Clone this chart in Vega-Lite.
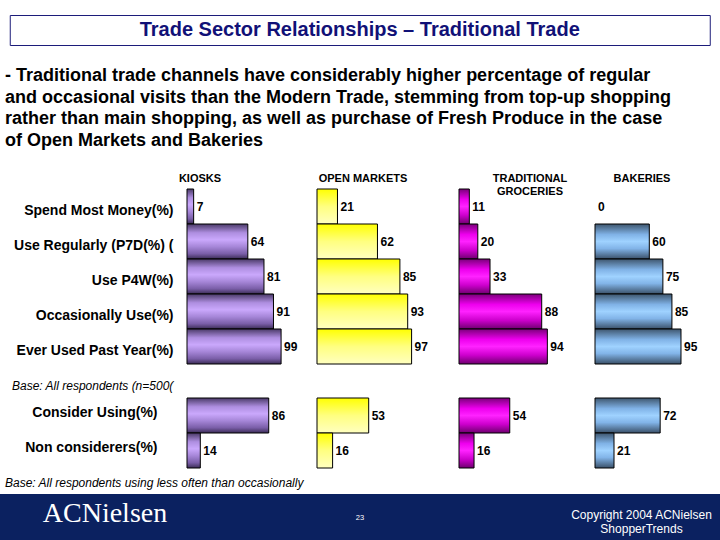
{
  "$schema": "https://vega.github.io/schema/vega-lite/v6.json",
  "background": "white",
  "padding": {"left": 0, "top": 14, "right": 0, "bottom": 0},
  "config": {"view": {"stroke": null}, "font": "Liberation Sans"},
  "datasets": {
    "top": [
      {"store": "Kiosks", "measure": "Spend Most Money(%)", "value": 7},
      {"store": "Kiosks", "measure": "Use Regularly (P7D(%) (", "value": 64},
      {"store": "Kiosks", "measure": "Use P4W(%)", "value": 81},
      {"store": "Kiosks", "measure": "Occasionally Use(%)", "value": 91},
      {"store": "Kiosks", "measure": "Ever Used Past Year(%)", "value": 99},
      {"store": "Open Markets", "measure": "Spend Most Money(%)", "value": 21},
      {"store": "Open Markets", "measure": "Use Regularly (P7D(%) (", "value": 62},
      {"store": "Open Markets", "measure": "Use P4W(%)", "value": 85},
      {"store": "Open Markets", "measure": "Occasionally Use(%)", "value": 93},
      {"store": "Open Markets", "measure": "Ever Used Past Year(%)", "value": 97},
      {"store": "Traditional Groceries", "measure": "Spend Most Money(%)", "value": 11},
      {"store": "Traditional Groceries", "measure": "Use Regularly (P7D(%) (", "value": 20},
      {"store": "Traditional Groceries", "measure": "Use P4W(%)", "value": 33},
      {"store": "Traditional Groceries", "measure": "Occasionally Use(%)", "value": 88},
      {"store": "Traditional Groceries", "measure": "Ever Used Past Year(%)", "value": 94},
      {"store": "Bakeries", "measure": "Spend Most Money(%)", "value": 0},
      {"store": "Bakeries", "measure": "Use Regularly (P7D(%) (", "value": 60},
      {"store": "Bakeries", "measure": "Use P4W(%)", "value": 75},
      {"store": "Bakeries", "measure": "Occasionally Use(%)", "value": 85},
      {"store": "Bakeries", "measure": "Ever Used Past Year(%)", "value": 95}
    ],
    "bottom": [
      {"store": "Kiosks", "measure": "Consider Using(%)", "value": 86},
      {"store": "Kiosks", "measure": "Non considerers(%)", "value": 14},
      {"store": "Open Markets", "measure": "Consider Using(%)", "value": 53},
      {"store": "Open Markets", "measure": "Non considerers(%)", "value": 16},
      {"store": "Traditional Groceries", "measure": "Consider Using(%)", "value": 54},
      {"store": "Traditional Groceries", "measure": "Non considerers(%)", "value": 16},
      {"store": "Bakeries", "measure": "Consider Using(%)", "value": 72},
      {"store": "Bakeries", "measure": "Non considerers(%)", "value": 21}
    ]
  },
  "spacing": 0,
  "center": true,
  "vconcat": [
    {
      "width": 700, "height": 30,
      "view": {"stroke": "#1c1c7a", "strokeWidth": 1},
      "data": {"values": [{"t": "Trade Sector Relationships – Traditional Trade"}]},
      "mark": {"type": "text", "fontSize": 20, "fontWeight": "bold", "color": "#111177", "font": "Liberation Sans"},
      "encoding": {"text": {"field": "t"}}
    },
    {
      "width": 720, "height": 126,
      "data": {"values": [{"t": "- Traditional trade channels have considerably higher percentage of regular\nand occasional visits than the Modern Trade, stemming from top-up shopping\nrather than main shopping, as well as purchase of Fresh Produce in the case\nof Open Markets and Bakeries"}]},
      "mark": {"type": "text", "align": "left", "baseline": "middle", "dx": -355, "dy": -33, "fontSize": 18, "fontWeight": "bold", "lineBreak": "\n", "lineHeight": 21.7, "color": "black", "font": "Liberation Sans"},
      "encoding": {"text": {"field": "t"}}
    },
    {
      "spacing": 0,
      "bounds": "flush",
      "hconcat": [
        {
          "width": 187, "height": 175,
          "data": {"name": "top"},
          "transform": [{"filter": "datum.store === 'Kiosks'"}],
          "title": {"text": "Base: All respondents (n=500(", "orient": "bottom", "anchor": "start", "frame": "group", "dx": 12, "offset": 17, "fontSize": 12, "fontStyle": "italic", "fontWeight": "normal", "color": "black", "font": "Liberation Sans"},
          "mark": {"type": "bar", "opacity": 0},
          "encoding": {
            "y": {"field": "measure", "type": "nominal", "sort": ["Spend Most Money(%)", "Use Regularly (P7D(%) (", "Use P4W(%)", "Occasionally Use(%)", "Ever Used Past Year(%)"],
              "scale": {"paddingInner": 0, "paddingOuter": 0},
              "axis": {"orient": "right", "title": null, "domain": false, "ticks": false, "tickSize": 0, "labelAlign": "right", "labelPadding": -14, "labelFontSize": 14, "labelFont": "Liberation Sans", "labelFontWeight": "bold", "labelColor": "black", "labelOffset": 4, "labelLimit": 400}}
          }
        },
        {
          "width": 130, "height": 175,
          "title": {"text": "KIOSKS", "anchor": "start", "align": "center", "frame": "group", "dx": 13, "offset": 5, "fontSize": 11, "fontWeight": "bold", "color": "black", "font": "Liberation Sans"},
          "data": {"name": "top"},
          "transform": [{"filter": "datum.store === 'Kiosks'"}],
          "encoding": {
            "y": {"field": "measure", "type": "nominal", "sort": ["Spend Most Money(%)", "Use Regularly (P7D(%) (", "Use P4W(%)", "Occasionally Use(%)", "Ever Used Past Year(%)"], "scale": {"paddingInner": 0, "paddingOuter": 0}, "axis": null},
            "x": {"field": "value", "type": "quantitative", "scale": {"domain": [0, 136.8], "nice": false}, "axis": null}
          },
          "layer": [
            {"transform": [{"filter": "datum.value > 0"}], "mark": {"type": "bar", "stroke": "black", "strokeWidth": 1, "fill": {"gradient": "linear", "x1": 0, "y1": 0, "x2": 0, "y2": 1, "stops": [{"offset": 0, "color": "#4a3a68"}, {"offset": 0.25, "color": "#ae8ee0"}, {"offset": 0.45, "color": "#caa8fc"}, {"offset": 0.65, "color": "#a686d8"}, {"offset": 0.85, "color": "#7a5ea8"}, {"offset": 1, "color": "#3a2c55"}]}}},
            {"mark": {"type": "text", "align": "left", "dx": 3, "fontSize": 12, "fontWeight": "bold", "font": "Liberation Sans Narrow, Liberation Sans", "color": "black"}, "encoding": {"text": {"field": "value", "type": "quantitative"}}}
          ]
        },
        {
          "width": 142, "height": 175,
          "title": {"text": "OPEN MARKETS", "anchor": "start", "align": "center", "frame": "group", "dx": 46, "offset": 5, "fontSize": 11, "fontWeight": "bold", "color": "black", "font": "Liberation Sans"},
          "data": {"name": "top"},
          "transform": [{"filter": "datum.store === 'Open Markets'"}],
          "encoding": {
            "y": {"field": "measure", "type": "nominal", "sort": ["Spend Most Money(%)", "Use Regularly (P7D(%) (", "Use P4W(%)", "Occasionally Use(%)", "Ever Used Past Year(%)"], "scale": {"paddingInner": 0, "paddingOuter": 0}, "axis": null},
            "x": {"field": "value", "type": "quantitative", "scale": {"domain": [0, 145.6], "nice": false}, "axis": null}
          },
          "layer": [
            {"transform": [{"filter": "datum.value > 0"}], "mark": {"type": "bar", "stroke": "black", "strokeWidth": 1, "fill": {"gradient": "linear", "x1": 0, "y1": 0, "x2": 0, "y2": 1, "stops": [{"offset": 0, "color": "#ffff00"}, {"offset": 0.5, "color": "#ffff80"}, {"offset": 1, "color": "#ffffc0"}]}}},
            {"mark": {"type": "text", "align": "left", "dx": 3, "fontSize": 12, "fontWeight": "bold", "font": "Liberation Sans Narrow, Liberation Sans", "color": "black"}, "encoding": {"text": {"field": "value", "type": "quantitative"}}}
          ]
        },
        {
          "width": 136, "height": 175,
          "title": {"text": ["TRADITIONAL", "GROCERIES"], "anchor": "start", "align": "center", "frame": "group", "dx": 71, "dy": 13, "lineHeight": 13, "offset": 5, "fontSize": 11, "fontWeight": "bold", "color": "black", "font": "Liberation Sans"},
          "data": {"name": "top"},
          "transform": [{"filter": "datum.store === 'Traditional Groceries'"}],
          "encoding": {
            "y": {"field": "measure", "type": "nominal", "sort": ["Spend Most Money(%)", "Use Regularly (P7D(%) (", "Use P4W(%)", "Occasionally Use(%)", "Ever Used Past Year(%)"], "scale": {"paddingInner": 0, "paddingOuter": 0}, "axis": null},
            "x": {"field": "value", "type": "quantitative", "scale": {"domain": [0, 144.7], "nice": false}, "axis": null}
          },
          "layer": [
            {"transform": [{"filter": "datum.value > 0"}], "mark": {"type": "bar", "stroke": "black", "strokeWidth": 1, "fill": {"gradient": "linear", "x1": 0, "y1": 0, "x2": 0, "y2": 1, "stops": [{"offset": 0, "color": "#7a007a"}, {"offset": 0.3, "color": "#ee00ee"}, {"offset": 0.5, "color": "#ff22ff"}, {"offset": 0.75, "color": "#cc00cc"}, {"offset": 1, "color": "#6e006e"}]}}},
            {"mark": {"type": "text", "align": "left", "dx": 3, "fontSize": 12, "fontWeight": "bold", "font": "Liberation Sans Narrow, Liberation Sans", "color": "black"}, "encoding": {"text": {"field": "value", "type": "quantitative"}}}
          ]
        },
        {
          "width": 125, "height": 175,
          "title": {"text": "BAKERIES", "anchor": "start", "align": "center", "frame": "group", "dx": 47, "offset": 5, "fontSize": 11, "fontWeight": "bold", "color": "black", "font": "Liberation Sans"},
          "data": {"name": "top"},
          "transform": [{"filter": "datum.store === 'Bakeries'"}],
          "encoding": {
            "y": {"field": "measure", "type": "nominal", "sort": ["Spend Most Money(%)", "Use Regularly (P7D(%) (", "Use P4W(%)", "Occasionally Use(%)", "Ever Used Past Year(%)"], "scale": {"paddingInner": 0, "paddingOuter": 0}, "axis": null},
            "x": {"field": "value", "type": "quantitative", "scale": {"domain": [0, 138.1], "nice": false}, "axis": null}
          },
          "layer": [
            {"transform": [{"filter": "datum.value > 0"}], "mark": {"type": "bar", "stroke": "black", "strokeWidth": 1, "fill": {"gradient": "linear", "x1": 0, "y1": 0, "x2": 0, "y2": 1, "stops": [{"offset": 0, "color": "#3e566e"}, {"offset": 0.3, "color": "#80b2e6"}, {"offset": 0.5, "color": "#9fd2ff"}, {"offset": 0.7, "color": "#82b4e8"}, {"offset": 1, "color": "#3a5068"}]}}},
            {"mark": {"type": "text", "align": "left", "dx": 3, "fontSize": 12, "fontWeight": "bold", "font": "Liberation Sans Narrow, Liberation Sans", "color": "black"}, "encoding": {"text": {"field": "value", "type": "quantitative"}}}
          ]
        }
      ]
    },
    {
      "spacing": 0,
      "bounds": "flush",
      "hconcat": [
        {
          "width": 187, "height": 84,
          "data": {"name": "bottom"},
          "transform": [{"filter": "datum.store === 'Kiosks'"}],
          "mark": {"type": "bar", "opacity": 0},
          "encoding": {
            "y": {"field": "measure", "type": "nominal", "sort": ["Consider Using(%)", "Non considerers(%)"],
              "scale": {"paddingInner": 0, "paddingOuter": 0.2, "align": 0.4286},
              "axis": {"orient": "right", "title": null, "domain": false, "ticks": false, "tickSize": 0, "labelAlign": "right", "labelPadding": -30, "labelFontSize": 14, "labelFont": "Liberation Sans", "labelFontWeight": "bold", "labelColor": "black", "labelOffset": -3, "labelLimit": 400}}
          }
        },
        {
          "width": 130, "height": 84,
          "data": {"name": "bottom"},
          "transform": [{"filter": "datum.store === 'Kiosks'"}],
          "encoding": {
            "y": {"field": "measure", "type": "nominal", "sort": ["Consider Using(%)", "Non considerers(%)"], "scale": {"paddingInner": 0, "paddingOuter": 0.2, "align": 0.4286}, "axis": null},
            "x": {"field": "value", "type": "quantitative", "scale": {"domain": [0, 136.8], "nice": false}, "axis": null}
          },
          "layer": [
            {"mark": {"type": "bar", "stroke": "black", "strokeWidth": 1, "fill": {"gradient": "linear", "x1": 0, "y1": 0, "x2": 0, "y2": 1, "stops": [{"offset": 0, "color": "#4a3a68"}, {"offset": 0.25, "color": "#ae8ee0"}, {"offset": 0.45, "color": "#caa8fc"}, {"offset": 0.65, "color": "#a686d8"}, {"offset": 0.85, "color": "#7a5ea8"}, {"offset": 1, "color": "#3a2c55"}]}}},
            {"mark": {"type": "text", "align": "left", "dx": 3, "fontSize": 12, "fontWeight": "bold", "font": "Liberation Sans Narrow, Liberation Sans", "color": "black"}, "encoding": {"text": {"field": "value", "type": "quantitative"}}}
          ]
        },
        {
          "width": 142, "height": 84,
          "data": {"name": "bottom"},
          "transform": [{"filter": "datum.store === 'Open Markets'"}],
          "encoding": {
            "y": {"field": "measure", "type": "nominal", "sort": ["Consider Using(%)", "Non considerers(%)"], "scale": {"paddingInner": 0, "paddingOuter": 0.2, "align": 0.4286}, "axis": null},
            "x": {"field": "value", "type": "quantitative", "scale": {"domain": [0, 145.6], "nice": false}, "axis": null}
          },
          "layer": [
            {"mark": {"type": "bar", "stroke": "black", "strokeWidth": 1, "fill": {"gradient": "linear", "x1": 0, "y1": 0, "x2": 0, "y2": 1, "stops": [{"offset": 0, "color": "#ffff00"}, {"offset": 0.5, "color": "#ffff80"}, {"offset": 1, "color": "#ffffc0"}]}}},
            {"mark": {"type": "text", "align": "left", "dx": 3, "fontSize": 12, "fontWeight": "bold", "font": "Liberation Sans Narrow, Liberation Sans", "color": "black"}, "encoding": {"text": {"field": "value", "type": "quantitative"}}}
          ]
        },
        {
          "width": 136, "height": 84,
          "data": {"name": "bottom"},
          "transform": [{"filter": "datum.store === 'Traditional Groceries'"}],
          "encoding": {
            "y": {"field": "measure", "type": "nominal", "sort": ["Consider Using(%)", "Non considerers(%)"], "scale": {"paddingInner": 0, "paddingOuter": 0.2, "align": 0.4286}, "axis": null},
            "x": {"field": "value", "type": "quantitative", "scale": {"domain": [0, 144.7], "nice": false}, "axis": null}
          },
          "layer": [
            {"mark": {"type": "bar", "stroke": "black", "strokeWidth": 1, "fill": {"gradient": "linear", "x1": 0, "y1": 0, "x2": 0, "y2": 1, "stops": [{"offset": 0, "color": "#7a007a"}, {"offset": 0.3, "color": "#ee00ee"}, {"offset": 0.5, "color": "#ff22ff"}, {"offset": 0.75, "color": "#cc00cc"}, {"offset": 1, "color": "#6e006e"}]}}},
            {"mark": {"type": "text", "align": "left", "dx": 3, "fontSize": 12, "fontWeight": "bold", "font": "Liberation Sans Narrow, Liberation Sans", "color": "black"}, "encoding": {"text": {"field": "value", "type": "quantitative"}}}
          ]
        },
        {
          "width": 125, "height": 84,
          "data": {"name": "bottom"},
          "transform": [{"filter": "datum.store === 'Bakeries'"}],
          "encoding": {
            "y": {"field": "measure", "type": "nominal", "sort": ["Consider Using(%)", "Non considerers(%)"], "scale": {"paddingInner": 0, "paddingOuter": 0.2, "align": 0.4286}, "axis": null},
            "x": {"field": "value", "type": "quantitative", "scale": {"domain": [0, 138.1], "nice": false}, "axis": null}
          },
          "layer": [
            {"mark": {"type": "bar", "stroke": "black", "strokeWidth": 1, "fill": {"gradient": "linear", "x1": 0, "y1": 0, "x2": 0, "y2": 1, "stops": [{"offset": 0, "color": "#3e566e"}, {"offset": 0.3, "color": "#80b2e6"}, {"offset": 0.5, "color": "#9fd2ff"}, {"offset": 0.7, "color": "#82b4e8"}, {"offset": 1, "color": "#3a5068"}]}}},
            {"mark": {"type": "text", "align": "left", "dx": 3, "fontSize": 12, "fontWeight": "bold", "font": "Liberation Sans Narrow, Liberation Sans", "color": "black"}, "encoding": {"text": {"field": "value", "type": "quantitative"}}}
          ]
        }
      ]
    },
    {
      "width": 720, "height": 48.5,
      "view": {"fill": "#0b2160", "stroke": null},
      "title": {"text": "Base: All respondents using less often than occasionally", "anchor": "start", "frame": "group", "dx": 5, "offset": 4.5, "fontSize": 12, "fontStyle": "italic", "fontWeight": "normal", "color": "black", "font": "Liberation Sans"},
      "layer": [
        {"data": {"values": [{"t": "ACNielsen"}]}, "mark": {"type": "text", "font": "Liberation Serif", "fontSize": 28, "color": "white", "dx": -255, "dy": -4}, "encoding": {"text": {"field": "t"}}},
        {"data": {"values": [{"t": "23"}]}, "mark": {"type": "text", "fontSize": 7.5, "color": "white", "font": "Liberation Sans"}, "encoding": {"text": {"field": "t"}}},
        {"data": {"values": [{"t": "Copyright 2004 ACNielsen\nShopperTrends"}]}, "mark": {"type": "text", "fontSize": 12, "color": "white", "dx": 281.5, "dy": -3.5, "lineBreak": "\n", "lineHeight": 14, "font": "Liberation Sans"}, "encoding": {"text": {"field": "t"}}}
      ]
    }
  ]
}
